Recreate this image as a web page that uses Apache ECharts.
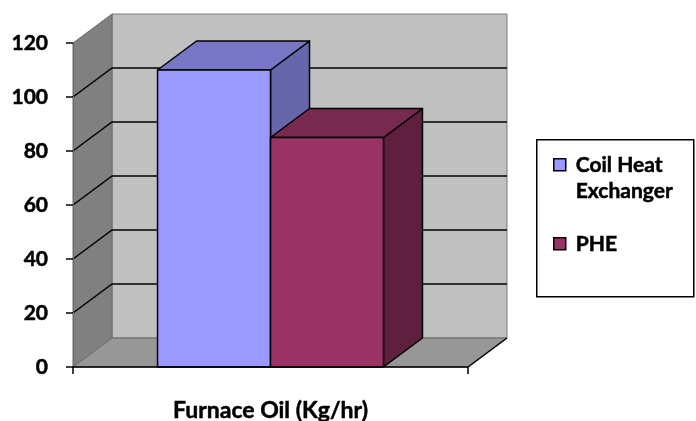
<!DOCTYPE html>
<html>
<head>
<meta charset="utf-8">
<script src="https://cdn.jsdelivr.net/npm/echarts@6/dist/echarts.min.js"></script>
<style>
  html, body { margin: 0; padding: 0; background: #fff; }
  #chart { width: 696px; height: 421px; }
</style>
</head>
<body>
<div id="chart"></div>
<script>
const categories = ['Furnace Oil (Kg/hr)'];
const seriesNames = ['Coil Heat Exchanger', 'PHE'];
const coilValues = [110];
const pheValues = [85];
const yTicks = [0, 20, 40, 60, 80, 100, 120];

// front / top / side shades for each bar
const barColors = [
  { front: '#9999FF', top: '#7777C6', side: '#6666AA' },
  { front: '#993366', top: '#77294F', side: '#5F1F3F' }
];
const DX = 39, DY = -29;   // 3D depth offset
const FONT = 'Lato';

const chart = echarts.init(document.getElementById('chart'));

// draws the 3D column for series idx (0 left, 1 right)
function barRenderer(idx) {
  return function (params, api) {
    const band = api.size([1, 0])[0];
    const w = band * 0.286;
    const top = api.coord([api.value(0), api.value(1)]);
    const base = api.coord([api.value(0), 0]);
    const x0 = top[0] - w + idx * w;
    const x1 = x0 + w;
    const yT = top[1], yB = base[1];
    const col = barColors[idx];
    const edge = { stroke: '#000', lineWidth: 1.5, lineJoin: 'round' };
    return {
      type: 'group',
      children: [
        { type: 'polygon', shape: { points: [[x1, yT], [x1 + DX, yT + DY], [x1 + DX, yB + DY], [x1, yB]] },
          style: Object.assign({ fill: col.side }, edge) },
        { type: 'polygon', shape: { points: [[x0, yT], [x0 + DX, yT + DY], [x1 + DX, yT + DY], [x1, yT]] },
          style: Object.assign({ fill: col.top }, edge) },
        { type: 'rect', shape: { x: x0, y: yT, width: w, height: yB - yT },
          style: Object.assign({ fill: col.front }, edge) }
      ]
    };
  };
}

// back wall, side wall, floor and gridlines
function wallRenderer(params, api) {
  const band = api.size([1, 0])[0];
  const c = api.coord([0, 0]);
  const L = c[0] - band / 2, R = c[0] + band / 2;
  const yB = api.coord([0, yTicks[0]])[1];
  const yT = api.coord([0, yTicks[yTicks.length - 1]])[1];
  const kids = [
    { type: 'rect', shape: { x: L + DX, y: yT + DY, width: R - L, height: yB - yT },
      style: { fill: '#C0C0C0', stroke: '#7a7a7a', lineWidth: 1 } },
    { type: 'polygon', shape: { points: [[L, yT], [L + DX, yT + DY], [L + DX, yB + DY], [L, yB]] },
      style: { fill: '#808080', stroke: '#6a6a6a', lineWidth: 1 } },
    { type: 'polygon', shape: { points: [[L, yB], [L + DX, yB + DY], [R + DX, yB + DY], [R, yB]] },
      style: { fill: '#979797', stroke: '#6a6a6a', lineWidth: 1 } },
    { type: 'line', shape: { x1: R, y1: yB, x2: R + DX, y2: yB + DY },
      style: { stroke: '#000', lineWidth: 1.5 } }
  ];
  yTicks.slice(1, -1).forEach(function (v) {
    const y = api.coord([0, v])[1];
    kids.push({ type: 'polyline', shape: { points: [[L, y], [L + DX, y + DY], [R + DX, y + DY]] },
      style: { stroke: '#000', lineWidth: 1.5, fill: null } });
  });
  return { type: 'group', children: kids };
}

const heavy = { textBorderColor: '#000', textBorderWidth: 0.5 };

const legendItems = seriesNames.map(function (name, i) {
  const iconY = i === 0 ? 19 : 98;
  return [
    { type: 'rect', shape: { x: 17, y: iconY, width: 12, height: 12 },
      style: { fill: barColors[i].front, stroke: '#000', lineWidth: 1.5 } },
    { type: 'text', x: 39, y: iconY + 6,
      style: { text: i === 0 ? 'Coil Heat\nExchanger' : name, font: 'bold 21px ' + FONT,
               fill: '#000', stroke: '#000', lineWidth: 0.5,
               lineHeight: 26, verticalAlign: 'top', y: -13 } }
  ];
}).flat();

chart.setOption({
  animation: false,
  grid: { left: 73, right: 228, top: 43, bottom: 54, containLabel: false, outerBoundsMode: 'none' },
  xAxis: {
    type: 'category',
    data: categories,
    z: 5,
    axisLine: { show: true, lineStyle: { color: '#000', width: 1.5 } },
    axisTick: { show: true, length: 7, lineStyle: { color: '#000', width: 1.5 } },
    axisLabel: Object.assign({ margin: 32, color: '#000', fontFamily: FONT, fontWeight: 'bold', fontSize: 23 }, heavy)
  },
  yAxis: {
    type: 'value',
    min: 0, max: 120, interval: 20,
    z: 5,
    splitLine: { show: false },
    axisLine: { show: true, lineStyle: { color: '#6a6a6a', width: 1 } },
    axisTick: { show: true, length: 7, lineStyle: { color: '#000', width: 1.5 } },
    axisLabel: Object.assign({ margin: 25, color: '#000', fontFamily: FONT, fontWeight: 'bold', fontSize: 21 }, heavy)
  },
  series: [
    { type: 'custom', name: 'walls', z: 1, data: [[0, 0]], encode: { x: 0, y: 1 },
      renderItem: wallRenderer, silent: true },
    { type: 'custom', name: seriesNames[0], z: 2, data: [[0, coilValues[0]]], encode: { x: 0, y: 1 },
      renderItem: barRenderer(0) },
    { type: 'custom', name: seriesNames[1], z: 3, data: [[0, pheValues[0]]], encode: { x: 0, y: 1 },
      renderItem: barRenderer(1) }
  ],
  graphic: [{
    type: 'group', left: 536, top: 139,
    children: [
      { type: 'rect', shape: { x: 0, y: 0, width: 157, height: 157 },
        style: { fill: '#fff', stroke: '#000', lineWidth: 1.5 } }
    ].concat(legendItems)
  }]
});
</script>
</body>
</html>
